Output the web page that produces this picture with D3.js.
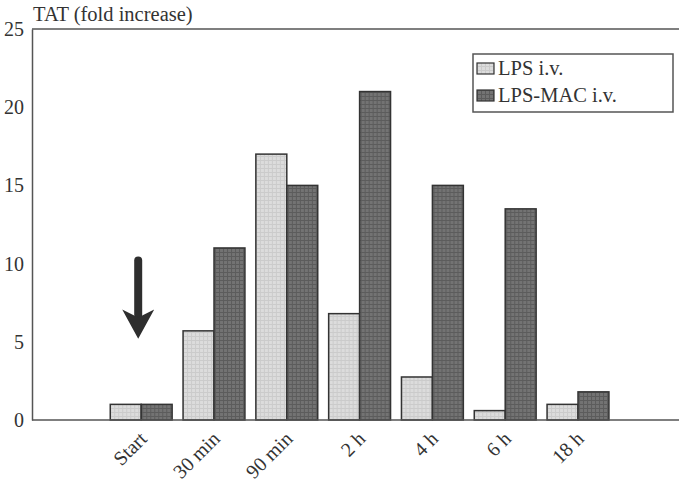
<!DOCTYPE html>
<html>
<head>
<meta charset="utf-8">
<script src="https://cdn.jsdelivr.net/npm/d3@7/dist/d3.min.js"></script>
<style>
  html, body { margin: 0; padding: 0; background: #fff; }
  svg { display: block; }
  text { font-family: "Liberation Serif", "Times New Roman", serif; fill: #333; }
</style>
</head>
<body>
<svg id="chart" width="679" height="481"></svg>
<script>
// Thrombin-antithrombin (TAT) fold increase over time
const categories = ["Start", "30 min", "90 min", "2 h", "4 h", "6 h", "18 h"];
const seriesNames = ["LPS i.v.", "LPS-MAC i.v."];
const lpsValues = [1, 5.7, 17, 6.8, 2.75, 0.6, 1];
const macValues = [1, 11, 15, 21, 15, 13.5, 1.8];
const yTicks = [0, 5, 10, 15, 20, 25];

const svg = d3.select("#chart");
const W = 679, H = 481;
const plotLeft = 32, plotTop = 29, plotBottom = 420;

const y = d3.scaleLinear().domain([0, 25]).range([plotBottom, plotTop]);
const step = 72.8;
const x = d3.scaleBand()
  .domain(categories)
  .range([plotLeft + step, plotLeft + step * 8])
  .paddingInner(0.15)
  .paddingOuter(0.075);
const xs = d3.scaleBand().domain(seriesNames).range([0, x.bandwidth()]);

// Hatched grey fills
const defs = svg.append("defs");
function gridPattern(id, base, line) {
  const p = defs.append("pattern")
    .attr("id", id).attr("patternUnits", "userSpaceOnUse")
    .attr("width", 4).attr("height", 4);
  p.append("rect").attr("width", 4).attr("height", 4).attr("fill", base);
  p.append("path").attr("d", "M0,0.5H4M0.5,0V4")
    .attr("stroke", line).attr("stroke-width", 1).attr("fill", "none");
}
gridPattern("fillLps", "#dcdcdc", "#cbcbcb");
gridPattern("fillMac", "#737373", "#5c5c5c");
const fills = { "LPS i.v.": "url(#fillLps)", "LPS-MAC i.v.": "url(#fillMac)" };

// Frame: top line
svg.append("line").attr("x1", plotLeft).attr("x2", W).attr("y1", plotTop).attr("y2", plotTop)
  .attr("stroke", "#555").attr("stroke-width", 1.5);

// Y axis
const yAxis = svg.append("g").attr("transform", `translate(${plotLeft},0)`)
  .call(d3.axisLeft(y).tickValues(yTicks).tickSize(0).tickPadding(8));
yAxis.select(".domain").attr("stroke", "#555").attr("stroke-width", 1.5);
yAxis.selectAll("text").style("font-size", "20px").attr("fill", "#3a3a3a")
  .style("font-family", "Liberation Serif, serif");

// Bars
const rows = categories.map((c, i) => ({ cat: c, vals: [lpsValues[i], macValues[i]] }));
const groups = svg.append("g").selectAll("g").data(rows).join("g")
  .attr("transform", d => `translate(${x(d.cat)},0)`);
groups.selectAll("rect")
  .data(d => d.vals.map((v, j) => ({ key: seriesNames[j], v })))
  .join("rect")
  .attr("x", d => xs(d.key))
  .attr("y", d => y(d.v))
  .attr("width", xs.bandwidth())
  .attr("height", d => y(0) - y(d.v))
  .attr("fill", d => fills[d.key])
  .attr("stroke", "#333")
  .attr("stroke-width", 1.5);

// Baseline
svg.append("line").attr("x1", plotLeft).attr("x2", W).attr("y1", plotBottom).attr("y2", plotBottom)
  .attr("stroke", "#555").attr("stroke-width", 1.5);

// X axis labels, rotated
const xAxis = svg.append("g").attr("transform", `translate(0,${plotBottom})`)
  .call(d3.axisBottom(x).tickSize(0).tickPadding(0));
xAxis.select(".domain").remove();
xAxis.selectAll("text")
  .style("font-size", "20px").style("font-family", "Liberation Serif, serif")
  .attr("fill", "#333")
  .attr("text-anchor", "end")
  .attr("dy", null)
  .attr("y", 0)
  .attr("transform", "translate(7,20) rotate(-45)");

// Title of y axis
svg.append("text").attr("x", 33).attr("y", 21)
  .style("font-size", "20.5px").text("TAT (fold increase)");

// Arrow marking the start of infusion
const ax = x("Start") + x.bandwidth() / 2 - 3;
const aTop = y(10.2), aTip = y(5.2), aHead = y(7);
svg.append("path")
  .attr("d", `M${ax},${aTop}L${ax},${aHead + 4}`)
  .attr("stroke", "#2e2e2e").attr("stroke-width", 8).attr("stroke-linecap", "round");
svg.append("path")
  .attr("d", `M${ax - 16},${aHead - 1}L${ax},${aTip}L${ax + 16},${aHead - 1}L${ax},${aHead + 7}Z`)
  .attr("fill", "#2e2e2e");

// Legend
const lg = svg.append("g").attr("transform", "translate(473,54)");
lg.append("rect").attr("width", 200).attr("height", 58)
  .attr("fill", "#fff").attr("stroke", "#555").attr("stroke-width", 1.5);
seriesNames.forEach((s, i) => {
  const gy = 9 + i * 27;
  lg.append("rect").attr("x", 4).attr("y", gy).attr("width", 17).attr("height", 11)
    .attr("fill", fills[s]).attr("stroke", "#333").attr("stroke-width", 1.2);
  lg.append("text").attr("x", 25).attr("y", gy + 12)
    .style("font-size", "20.5px").text(s);
});
</script>
</body>
</html>
